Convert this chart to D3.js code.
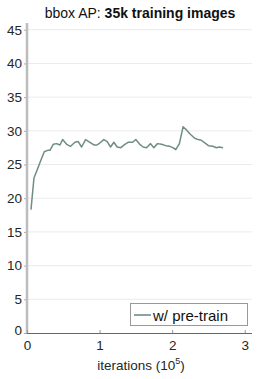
<!DOCTYPE html>
<html>
<head>
<meta charset="utf-8">
<script src="https://cdn.jsdelivr.net/npm/d3@7"></script>
<style>
  body { margin: 0; background: #fff; }
  text { font-family: "Liberation Sans", Arial, sans-serif; }
</style>
</head>
<body>
<div id="chart"></div>
<script>
// iterations (x 10^5) and bbox AP
const iters = [0.055, 0.096, 0.133, 0.179, 0.238, 0.285, 0.316, 0.362, 0.408, 0.454,
  0.491, 0.546, 0.601, 0.660, 0.706, 0.752, 0.807, 0.867, 0.921, 0.967,
  1.004, 1.059, 1.105, 1.151, 1.197, 1.242, 1.293, 1.348, 1.393, 1.454,
  1.499, 1.554, 1.600, 1.646, 1.702, 1.747, 1.798, 1.853, 1.912, 1.967,
  2.010, 2.050, 2.100, 2.150, 2.200, 2.250, 2.310, 2.360, 2.400, 2.450,
  2.500, 2.560, 2.610, 2.650, 2.700];
const ap = [18.3, 23.0, 24.0, 25.3, 26.9, 27.1, 27.1, 28.0, 28.1, 27.9,
  28.7, 28.0, 27.7, 28.3, 28.4, 27.6, 28.7, 28.3, 27.9, 27.9,
  28.2, 28.7, 28.4, 27.6, 28.3, 27.6, 27.5, 28.0, 28.3, 28.3,
  28.7, 28.0, 27.6, 27.5, 28.1, 27.5, 28.1, 28.0, 27.8, 27.7,
  27.5, 27.2, 28.1, 30.6, 30.1, 29.5, 28.9, 28.7, 28.6, 28.2,
  27.8, 27.7, 27.5, 27.6, 27.5];
const yTicks = [0, 5, 10, 15, 20, 25, 30, 35, 40, 45];
const xTicks = [0, 1, 2, 3];
const seriesName = "w/ pre-train";

const width = 261, height = 379;
const margin = {left: 27, right: 252, top: 23, bottom: 333};
const lineColor = "#6e8e80";

const svg = d3.select('#chart')
    .append('svg')
    .attr('width', width)
    .attr('height', height);

const x = d3.scaleLinear().domain([0, 3.1]).range([margin.left, margin.right]);
const y = d3.scaleLinear().domain([0, 46]).range([margin.bottom, margin.top]);

// grid
svg.append('g')
    .selectAll('line')
    .data(yTicks.filter(d => d > 0))
    .join('line')
    .attr('x1', margin.left).attr('x2', margin.right)
    .attr('y1', d => y(d)).attr('y2', d => y(d))
    .attr('stroke', '#ebebeb')
    .attr('stroke-width', 1);

// y axis
const yAxis = d3.axisLeft(y).tickValues(yTicks).tickSize(3).tickPadding(2);
const yg = svg.append('g').attr('transform', `translate(${margin.left},0)`).call(yAxis);
yg.select('.domain').remove();
yg.selectAll('.tick line').attr('stroke', '#aaa');
yg.selectAll('.tick text').attr('font-size', 13.5).attr('fill', '#262626')
    .attr('font-family', '"Liberation Sans", Arial, sans-serif');
// lift the 0 label a little, as in the reference
yg.selectAll('.tick').filter(d => d === 0).select('text').attr('dy', '0.1em');
svg.append('line')
    .attr('x1', margin.left).attr('x2', margin.left)
    .attr('y1', margin.top).attr('y2', margin.bottom)
    .attr('stroke', '#bdbdbd').attr('stroke-width', 2.5);

// x axis
const xAxis = d3.axisBottom(x).tickValues(xTicks).tickFormat(d3.format('d'))
    .tickSize(-3).tickPadding(7);
const xg = svg.append('g').attr('transform', `translate(0,${margin.bottom})`).call(xAxis);
xg.select('.domain').attr('d', `M${margin.left},0.5H${margin.right}`).attr('stroke', '#666');
xg.selectAll('.tick line').attr('stroke', '#999');
xg.selectAll('.tick text').attr('font-size', 13.5).attr('fill', '#262626')
    .attr('font-family', '"Liberation Sans", Arial, sans-serif');

// line
const line = d3.line().x((d, i) => x(iters[i])).y(d => y(d));
svg.append('path')
    .datum(ap)
    .attr('d', line)
    .attr('fill', 'none')
    .attr('stroke', lineColor)
    .attr('stroke-width', 1.5)
    .attr('stroke-linejoin', 'round');

// title
const title = svg.append('text')
    .attr('x', 140).attr('y', 18)
    .attr('text-anchor', 'middle')
    .attr('font-size', 14)
    .attr('fill', '#111');
title.append('tspan').text('bbox AP: ');
title.append('tspan').attr('font-weight', 'bold').text('35k training images');

// x title
const xt = svg.append('text')
    .attr('x', 141).attr('y', 370)
    .attr('text-anchor', 'middle')
    .attr('font-size', 13.5)
    .attr('fill', '#262626');
xt.append('tspan').text('iterations (10');
xt.append('tspan').attr('font-size', 9).attr('dy', -6).text('5');
xt.append('tspan').attr('dy', 6).text(')');

// legend
svg.append('rect')
    .attr('x', 130.5).attr('y', 303.5)
    .attr('width', 117).attr('height', 22)
    .attr('fill', '#fff')
    .attr('stroke', '#999');
svg.append('line')
    .attr('x1', 134).attr('x2', 151)
    .attr('y1', 315).attr('y2', 315)
    .attr('stroke', lineColor).attr('stroke-width', 1.6);
svg.append('text')
    .attr('x', 153).attr('y', 320.5)
    .attr('font-size', 15)
    .attr('fill', '#111')
    .text(seriesName);
</script>
</body>
</html>
